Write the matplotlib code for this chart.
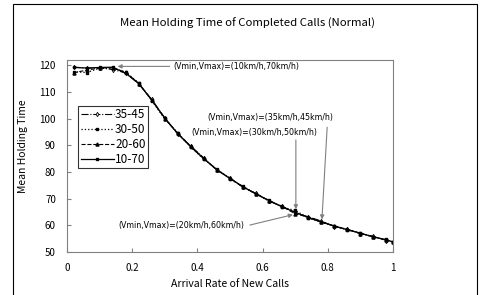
import matplotlib
matplotlib.use('Agg')
import matplotlib.pyplot as plt
from matplotlib.patches import Rectangle

plt.rcParams['font.family'] = ['Noto Sans CJK JP', 'DejaVu Sans']

# Datos
x = [0.02, 0.06, 0.10, 0.14, 0.18, 0.22, 0.26, 0.30, 0.34, 0.38, 0.42, 0.46, 0.50,
     0.54, 0.58, 0.62, 0.66, 0.70, 0.74, 0.78, 0.82, 0.86, 0.90, 0.94, 0.98, 1.00]

s3545 = [119.4, 118.9, 119.1, 118.4, 117.2, 113.0, 107.2, 100.3, 94.2, 89.7, 85.2, 80.6, 77.8,
         74.2, 72.0, 69.0, 67.2, 64.7, 63.2, 61.6, 59.5, 58.6, 56.8, 55.9, 54.3, 53.9]
s3050 = [117.6, 117.3, 118.9, 118.9, 117.5, 113.4, 106.8, 99.9, 94.6, 89.3, 84.8, 81.0, 77.4,
         74.6, 71.6, 69.4, 66.8, 65.6, 62.8, 61.1, 59.9, 58.2, 57.2, 55.5, 54.7, 53.6]
s2060 = [117.2, 118.2, 119.0, 119.1, 117.4, 113.1, 107.1, 100.0, 94.5, 89.6, 85.1, 80.7, 77.7,
         74.3, 71.9, 69.1, 67.1, 64.3, 63.1, 61.4, 59.6, 58.5, 56.9, 55.8, 54.4, 53.8]
s1070 = [119.2, 119.0, 119.2, 119.3, 117.0, 113.3, 106.9, 100.2, 94.3, 89.4, 84.9, 80.9, 77.5,
         74.5, 71.7, 69.3, 66.9, 64.9, 62.9, 61.2, 59.8, 58.3, 57.1, 55.6, 54.6, 53.7]

labels = ['35-45', '30-50', '20-60', '10-70']
notes = ['(Vmin,Vmax)=(10km/h,70km/h)', '(Vmin,Vmax)=(35km/h,45km/h)',
         '(Vmin,Vmax)=(30km/h,50km/h)', '(Vmin,Vmax)=(20km/h,60km/h)']

fig = plt.figure(figsize=(4.83, 2.95), dpi=100)
ax = fig.add_axes([0.1387, 0.1458, 0.675, 0.6508])

# Marco exterior de la figura
fig.patches.append(Rectangle((13 / 483, -0.05), 464 / 483, 1.05 - 4 / 295,
                             transform=fig.transFigure, fill=False,
                             edgecolor='black', lw=0.8, clip_on=False))

ax.plot(x, s3545, color='black', ls='-.', lw=0.8, marker='d', ms=2.2,
        mfc='white', mew=0.6, label=labels[0])
ax.plot(x, s3050, color='black', ls=':', lw=0.9, marker='s', ms=1.8, label=labels[1])
ax.plot(x, s2060, color='black', ls='--', lw=0.8, marker='^', ms=2.2, label=labels[2])
ax.plot(x, s1070, color='black', ls='-', lw=0.9, marker='s', ms=1.8, label=labels[3])

ax.set_xlim(0, 1)
ax.set_ylim(50, 122)
ax.set_xticks([0, 0.2, 0.4, 0.6, 0.8, 1])
ax.set_xticklabels(['0', '0.2', '0.4', '0.6', '0.8', '1'])
ax.set_yticks(range(50, 121, 10))
ax.tick_params(direction='in', length=3, color='gray', labelsize=7, pad=8)
for s in ax.spines.values():
    s.set_color('gray')
    s.set_linewidth(0.8)

fig.text(247 / 483, 1 - 23 / 295, 'Mean Holding Time of Completed Calls (Normal)',
         fontsize=8.2, ha='center', va='center')
ax.set_xlabel('Arrival Rate of New Calls', fontsize=7.5, labelpad=4)
ax.set_ylabel('Mean Holding Time', fontsize=7.5)
ax.yaxis.set_label_coords(-0.12, 0.55)

leg = ax.legend(loc='upper left', bbox_to_anchor=(0.035, 0.76), fontsize=8.5,
                frameon=True, fancybox=False, edgecolor='black', handlelength=2.8,
                handletextpad=0.1, borderpad=0.2, labelspacing=0.15, borderaxespad=0)
leg.get_frame().set_linewidth(0.8)

# Anotaciones con flechas
fn = dict(fontsize=5.7, family='DejaVu Sans', va='center', ha='left')
arr = dict(arrowstyle='-|>', color='gray', lw=0.8, mutation_scale=6, shrinkA=0, shrinkB=0)
ax.text(0.325, 119.6, notes[0], **fn)
ax.annotate('', xy=(0.155, 119.6), xytext=(0.315, 119.6), arrowprops=arr)
ax.text(0.43, 100.5, notes[1], **fn)
ax.annotate('', xy=(0.782, 62.2), xytext=(0.798, 96.8), arrowprops=arr)
ax.text(0.383, 94.9, notes[2], **fn)
ax.annotate('', xy=(0.702, 66.0), xytext=(0.702, 92.0), arrowprops=arr)
ax.text(0.157, 60.1, notes[3], **fn)
ax.annotate('', xy=(0.693, 64.0), xytext=(0.561, 60.1), arrowprops=arr)

fig.savefig('out.png', dpi=100)
